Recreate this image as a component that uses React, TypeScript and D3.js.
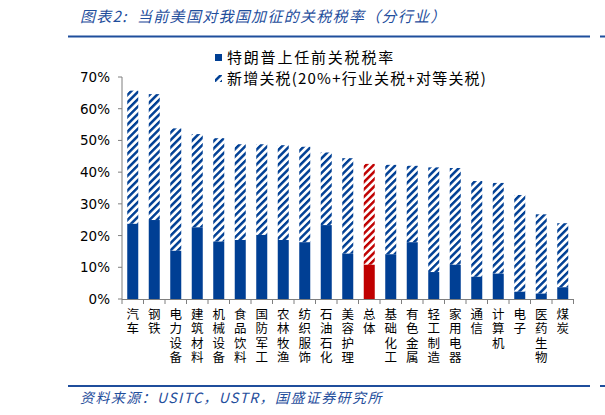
import React from "react";
import * as d3 from "d3";

const categories = ["汽车","钢铁","电力设备","建筑材料","机械设备","食品饮料","国防军工","农林牧渔","纺织服饰","石油石化","美容护理","总体","基础化工","有色金属","轻工制造","家用电器","通信","计算机","电子","医药生物","煤炭"];
const baseRates = [23.7,24.9,15.2,22.6,18.1,18.6,20.2,18.6,17.9,23.3,14.3,10.8,14.1,17.9,8.5,10.8,7.0,8.0,2.3,1.7,3.7];
const totalRates = [65.7,64.6,53.8,52.0,50.7,48.8,48.8,48.5,48.0,46.2,44.4,42.6,42.3,42.0,41.5,41.3,37.2,36.6,32.8,26.7,23.9];
const yTicks = [0,10,20,30,40,50,60,70];
const highlight = "总体";

const legendLabels = ["特朗普上任前关税税率", "新增关税(20%+行业关税+对等关税)"];
const titleText = "图表2:  当前美国对我国加征的关税税率（分行业）";
const sourceText = "资料来源：USITC，USTR，国盛证券研究所";

const BLUE = "#003F94";
const RED = "#C00000";
const HEAD = "#1F4E9C";
const AXIS = "#7f7f7f";
const CJK = "'Noto Sans CJK SC', 'Noto Sans', sans-serif";

export default function App() {
  const W = 605, H = 415;
  const x0 = 122, x1 = 573.5, yTop = 77, yBot = 299;
  const y = d3.scaleLinear().domain([0, 70]).range([yBot, yTop]);
  const x = d3.scaleBand<string>().domain(categories).range([x0, x1]).paddingInner(0.488).paddingOuter(0.244);
  const step = x.step();
  const bw = x.bandwidth();
  const gap = (step - bw) / 2;
  const boundaries = categories.map((c) => (x(c) as number) - gap).concat([x1]);

  return (
    <svg width={W} height={H} style={{ position: "absolute", left: 0, top: 0, background: "#fff" }}>
      <defs>
        <pattern id="stripeBlue" patternUnits="userSpaceOnUse" width={5.2} height={5.2} patternTransform="rotate(45)">
          <rect x={0} y={0} width={5.2} height={5.2} fill="#fff" />
          <rect x={0} y={0} width={2.5} height={5.2} fill={BLUE} />
        </pattern>
        <pattern id="stripeRed" patternUnits="userSpaceOnUse" width={5.2} height={5.2} patternTransform="rotate(45)">
          <rect x={0} y={0} width={5.2} height={5.2} fill="#fff" />
          <rect x={0} y={0} width={2.5} height={5.2} fill={RED} />
        </pattern>
      </defs>

      {/* Title */}
      <text x={80} y={22} fontFamily={CJK} fontSize={15} letterSpacing={1.3} fontStyle="italic" fill={HEAD} style={{ whiteSpace: "pre" }}>
        {titleText}
      </text>
      <line x1={68} x2={590} y1={36.5} y2={36.5} stroke={HEAD} strokeWidth={2} />
      <line x1={600} x2={605} y1={36.5} y2={36.5} stroke={HEAD} strokeWidth={2} />

      {/* Legend */}
      <rect x={215} y={54} width={7} height={7} fill={BLUE} />
      <text x={227} y={63} fontFamily={CJK} fontSize={15} letterSpacing={1.8} fill="#000">{legendLabels[0]}</text>
      <rect x={215} y={75} width={7} height={7} fill="url(#stripeBlue)" />
      <text x={227} y={84} fontFamily={CJK} fontSize={15} letterSpacing={1.2} fill="#000">{legendLabels[1]}</text>

      {/* Y axis */}
      <line x1={x0} x2={x0} y1={yTop} y2={yBot} stroke={AXIS} strokeWidth={1} />
      {yTicks.map((t) => (
        <g key={t}>
          <line x1={x0 - 4} x2={x0} y1={y(t)} y2={y(t)} stroke={AXIS} />
          <text x={110} y={y(t) + 5} textAnchor="end" fontFamily="'DejaVu Sans', Verdana, sans-serif" fontSize={13.5} fill="#000">
            {t + "%"}
          </text>
        </g>
      ))}

      {/* Bars */}
      {categories.map((c, i) => {
        const bx = x(c) as number;
        const isH = c === highlight;
        const col = isH ? RED : BLUE;
        return (
          <g key={c}>
            <rect x={bx} y={y(totalRates[i])} width={bw} height={y(baseRates[i]) - y(totalRates[i])} fill={isH ? "url(#stripeRed)" : "url(#stripeBlue)"} />
            <rect x={bx} y={y(baseRates[i])} width={bw} height={y(0) - y(baseRates[i])} fill={col} />
          </g>
        );
      })}

      {/* X axis */}
      <line x1={x0} x2={x1} y1={yBot + 0.5} y2={yBot + 0.5} stroke={AXIS} strokeWidth={1} />
      {boundaries.map((b, i) => (
        <line key={i} x1={b} x2={b} y1={yBot} y2={yBot + 5} stroke={AXIS} />
      ))}
      {categories.map((c) => {
        const cx = (x(c) as number) + bw / 2;
        return (
          <g key={c}>
            {Array.from(c).map((ch, j) => (
              <text key={j} x={cx} y={319 + j * 14.3} textAnchor="middle" fontFamily={CJK} fontSize={12.5} fill="#000">{ch}</text>
            ))}
          </g>
        );
      })}

      {/* Footer */}
      <line x1={68} x2={590} y1={386} y2={386} stroke={HEAD} strokeWidth={2} />
      <line x1={600} x2={605} y1={386} y2={386} stroke={HEAD} strokeWidth={2} />
      <text x={80} y={403} fontFamily={CJK} fontSize={14} letterSpacing={1.4} fontStyle="italic" fill={HEAD}>{sourceText}</text>
    </svg>
  );
}
